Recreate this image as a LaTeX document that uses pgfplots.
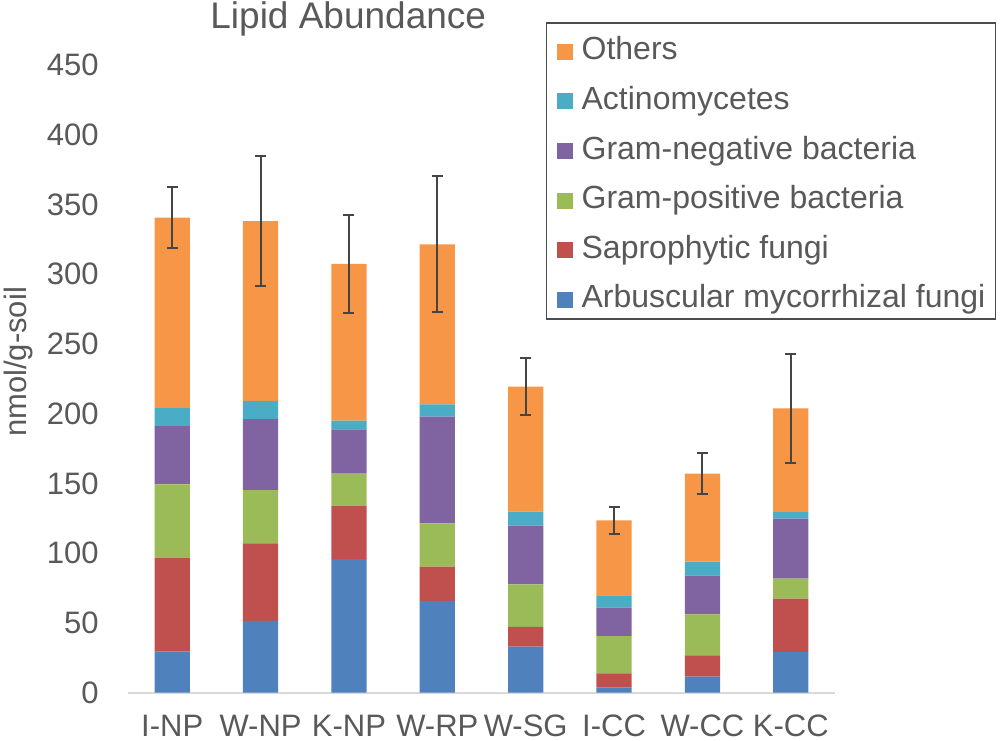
\documentclass[border=0pt]{standalone}
\usepackage{fontspec}
\setmainfont{Liberation Sans}
\usepackage{pgfplots}
\usepackage{pgfplotstable}
\pgfplotsset{compat=1.18}

\definecolor{amf}{HTML}{4F81BD}
\definecolor{sapro}{HTML}{C0504D}
\definecolor{gpos}{HTML}{9BBB59}
\definecolor{gneg}{HTML}{8064A2}
\definecolor{actino}{HTML}{4BACC6}
\definecolor{others}{HTML}{F79646}
\definecolor{txt}{HTML}{595959}
\definecolor{errc}{HTML}{454545}

% lipid abundance, nmol/g-soil, one row per treatment
\pgfplotstableread{
x  amf   sap   gpos  gneg  act   oth    err
0  29.3  67.4  52.6  41.8  12.9  136.5  22.0
1  51.3  55.7  38.2  50.9  13.0  129.0  46.5
2  95.7  38.3  22.9  31.8  6.2   112.4  35.0
3  65.8  24.4  31.1  76.5  8.9   114.7  48.8
4  32.9  14.1  30.6  42.0  10.1  89.6   20.5
5  3.5   10.3  26.7  20.3  8.9   53.8   9.7
6  11.4  15.3  29.4  27.7  10.0  63.1   14.5
7  29.0  38.3  14.3  43.1  4.7   74.4   39.0
}\lipid

\begin{document}
\begin{tikzpicture}
\useasboundingbox (0pt,0pt) rectangle (500pt,370pt);
\begin{axis}[
  at={(64pt,23.75pt)}, anchor=south west,
  scale only axis, width=353.5pt, height=313.75pt,
  ybar stacked, bar width=0.4,
  xmin=-0.5, xmax=7.5, ymin=0, ymax=450,
  xtick={0,...,7},
  xticklabels={I-NP,W-NP,K-NP,W-RP,W-SG,I-CC,W-CC,K-CC},
  ytick={0,50,...,450},
  major tick length=0pt,
  axis x line*=bottom, axis y line*=left,
  x axis line style={draw=black!15, line width=1pt, -},
  y axis line style={draw=none},
  /pgf/number format/assume math mode=true,
  ticklabel style={font=\fontsize{15.5}{18}\selectfont, text=txt},
  yticklabel style={anchor=east, inner sep=0pt, xshift=-14.5pt},
  xticklabel style={anchor=north, inner sep=0pt, yshift=-11pt},
  reverse legend,
  legend cell align=left,
  legend image code/.code={\fill[#1] (0pt,-4pt) rectangle (8pt,4pt);},
  legend style={at={(0.591,1.0685)}, anchor=north west,
    draw=black!70, line width=0.8pt,
    font=\fontsize{16}{19}\selectfont, text=txt,
    inner xsep=5pt, inner ysep=4.5pt, row sep=9.8pt,
    nodes={inner sep=0pt, text height=14pt, text depth=1pt},
    /tikz/every odd column/.append style={column sep=4.5pt, yshift=-2.5pt}},
]
\addplot[fill=amf, draw=none] table[x=x, y=amf] {\lipid};
\addlegendentry{Arbuscular mycorrhizal fungi}
\addplot[fill=sapro, draw=none] table[x=x, y=sap] {\lipid};
\addlegendentry{Saprophytic fungi}
\addplot[fill=gpos, draw=none] table[x=x, y=gpos] {\lipid};
\addlegendentry{Gram-positive bacteria}
\addplot[fill=gneg, draw=none] table[x=x, y=gneg] {\lipid};
\addlegendentry{Gram-negative bacteria}
\addplot[fill=actino, draw=none] table[x=x, y=act] {\lipid};
\addlegendentry{Actinomycetes}
\addplot[fill=others, draw=none,
  error bars/.cd, y dir=both, y explicit,
  error bar style={color=errc, line width=1pt},
  error mark options={rotate=90, mark size=2.75pt, color=errc, line width=1pt}]
  table[x=x, y=oth, y error=err] {\lipid};
\addlegendentry{Others}
\end{axis}
\node[anchor=base west, inner sep=0pt, font=\fontsize{18.5}{22}\selectfont, text=txt]
  at (105pt,355.8pt) {Lipid Abundance};
\node[rotate=90, inner sep=0pt, font=\fontsize{15.5}{18}\selectfont, text=txt]
  at (9pt,189pt) {nmol/g-soil};
\end{tikzpicture}
\end{document}
